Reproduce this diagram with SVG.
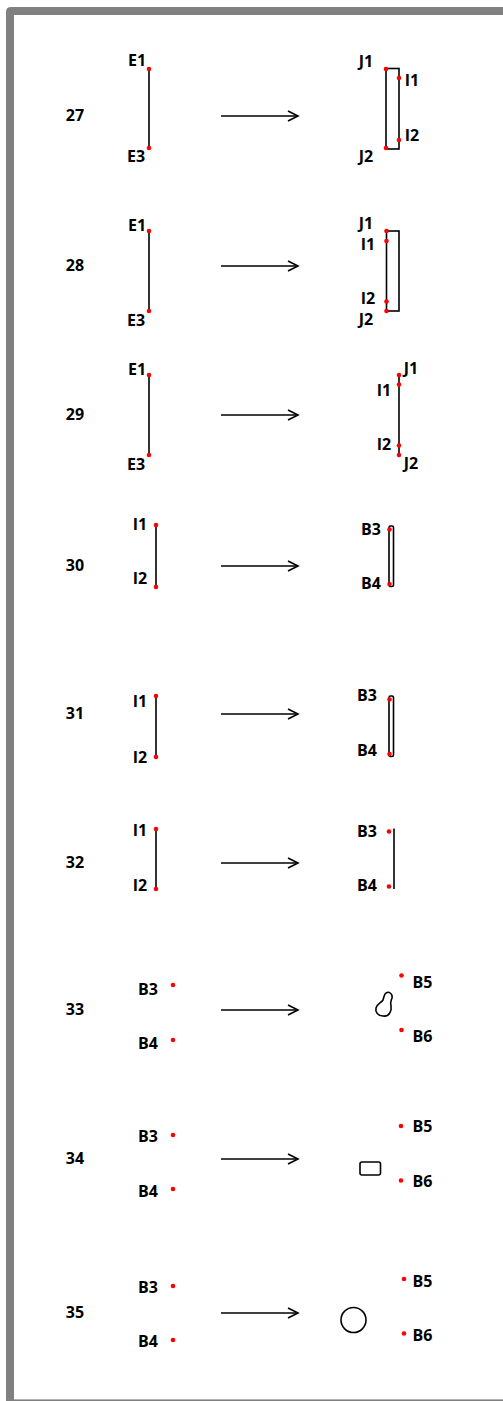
<svg xmlns="http://www.w3.org/2000/svg" width="503" height="1401" viewBox="0 0 503 1401">
<defs>
<style>
.t{font-family:"Open Sans","Liberation Sans",sans-serif;font-weight:bold;font-size:16px;fill:#000;text-anchor:middle}
.l{stroke:#000;stroke-width:1.6;fill:none}
.d{fill:#f00}
.a{stroke:#000;stroke-width:1.6;fill:none}
</style>
<marker id="ah" markerWidth="14" markerHeight="14" refX="11" refY="6" orient="auto" markerUnits="userSpaceOnUse">
<path d="M1,1 L11,6 L1,11" fill="none" stroke="#000" stroke-width="1.6"/>
</marker>
</defs>
<rect x="0" y="0" width="503" height="1401" fill="#fff"/>
<path d="M6,1401 V12 Q6,7 11,7 H503 V1401 Z" fill="#808080"/>
<rect x="14" y="15" width="489" height="1384" fill="#fff"/>
<line x1="14" y1="1399.5" x2="503" y2="1399.5" stroke="#b0b0b0" stroke-width="1"/>

<g id="connectors">
<line class="a" x1="221" y1="116" x2="298" y2="116" marker-end="url(#ah)"/>
<line class="a" x1="221" y1="266" x2="298" y2="266" marker-end="url(#ah)"/>
<line class="a" x1="221" y1="415" x2="298" y2="415" marker-end="url(#ah)"/>
<line class="a" x1="221" y1="566" x2="298" y2="566" marker-end="url(#ah)"/>
<line class="a" x1="221" y1="714" x2="298" y2="714" marker-end="url(#ah)"/>
<line class="a" x1="221" y1="863" x2="298" y2="863" marker-end="url(#ah)"/>
<line class="a" x1="221" y1="1010" x2="298" y2="1010" marker-end="url(#ah)"/>
<line class="a" x1="221" y1="1159" x2="298" y2="1159" marker-end="url(#ah)"/>
<line class="a" x1="221" y1="1313" x2="298" y2="1313" marker-end="url(#ah)"/>
</g>

<g id="row27">
<text class="t" x="75" y="121">27</text>
<line class="l" x1="149" y1="69" x2="149" y2="148"/>
<circle class="d" cx="149" cy="69" r="2.3"/><circle class="d" cx="149" cy="148" r="2.3"/>
<text class="t" x="137" y="66">E1</text><text class="t" x="136" y="162">E3</text>
<rect class="l" x="386" y="68.5" width="13" height="80.5"/>
<circle class="d" cx="386" cy="69" r="2.3"/><circle class="d" cx="399" cy="78" r="2.3"/>
<circle class="d" cx="399" cy="140" r="2.3"/><circle class="d" cx="386" cy="148" r="2.3"/>
<text class="t" x="366" y="67">J1</text><text class="t" x="412" y="86">I1</text>
<text class="t" x="412" y="141">I2</text><text class="t" x="366" y="162">J2</text>
</g>

<g id="row28">
<text class="t" x="75" y="271">28</text>
<line class="l" x1="149" y1="231" x2="149" y2="311"/>
<circle class="d" cx="149" cy="231" r="2.3"/><circle class="d" cx="149" cy="311" r="2.3"/>
<text class="t" x="137" y="231">E1</text><text class="t" x="136" y="326">E3</text>
<rect class="l" x="386.5" y="231" width="12.5" height="80"/>
<circle class="d" cx="386.5" cy="231" r="2.3"/><circle class="d" cx="386.5" cy="241" r="2.3"/>
<circle class="d" cx="386.5" cy="301.5" r="2.3"/><circle class="d" cx="386.5" cy="311" r="2.3"/>
<text class="t" x="366" y="228.5">J1</text><text class="t" x="368" y="250">I1</text>
<text class="t" x="368" y="304">I2</text><text class="t" x="366" y="325">J2</text>
</g>

<g id="row29">
<text class="t" x="75" y="420">29</text>
<line class="l" x1="149" y1="375" x2="149" y2="455"/>
<circle class="d" cx="149" cy="375" r="2.3"/><circle class="d" cx="149" cy="455" r="2.3"/>
<text class="t" x="137" y="375">E1</text><text class="t" x="136" y="470">E3</text>
<line class="l" x1="399" y1="375" x2="399" y2="455"/>
<circle class="d" cx="399" cy="375" r="2.3"/><circle class="d" cx="399" cy="384.5" r="2.3"/>
<circle class="d" cx="399" cy="445.5" r="2.3"/><circle class="d" cx="399" cy="455" r="2.3"/>
<text class="t" x="411" y="374">J1</text><text class="t" x="384" y="396">I1</text>
<text class="t" x="384" y="450">I2</text><text class="t" x="411" y="469">J2</text>
</g>

<g id="row30">
<text class="t" x="75" y="571">30</text>
<line class="l" x1="156" y1="525" x2="156" y2="587"/>
<circle class="d" cx="156" cy="525" r="2.3"/><circle class="d" cx="156" cy="587" r="2.3"/>
<text class="t" x="140" y="530">I1</text><text class="t" x="140" y="584">I2</text>
<rect class="l" x="389" y="526" width="4.5" height="60.5" rx="1.5"/>
<circle class="d" cx="389.5" cy="529.5" r="2.3"/><circle class="d" cx="389.5" cy="584" r="2.3"/>
<text class="t" x="371" y="535">B3</text><text class="t" x="371" y="589">B4</text>
</g>

<g id="row31">
<text class="t" x="75" y="719">31</text>
<line class="l" x1="156" y1="696" x2="156" y2="757"/>
<circle class="d" cx="156" cy="696" r="2.3"/><circle class="d" cx="156" cy="757" r="2.3"/>
<text class="t" x="140" y="707">I1</text><text class="t" x="140" y="763">I2</text>
<rect class="l" x="389" y="696" width="4.5" height="60.5" rx="1.5"/>
<circle class="d" cx="389.5" cy="699.5" r="2.3"/><circle class="d" cx="389.5" cy="754" r="2.3"/>
<text class="t" x="367" y="701">B3</text><text class="t" x="367" y="756">B4</text>
</g>

<g id="row32">
<text class="t" x="75" y="868">32</text>
<line class="l" x1="156" y1="829" x2="156" y2="889"/>
<circle class="d" cx="156" cy="829" r="2.3"/><circle class="d" cx="156" cy="889" r="2.3"/>
<text class="t" x="140" y="836">I1</text><text class="t" x="140" y="891">I2</text>
<line class="l" x1="394" y1="828.5" x2="394" y2="889"/>
<circle class="d" cx="389" cy="831.5" r="2.3"/><circle class="d" cx="389" cy="886.5" r="2.3"/>
<text class="t" x="367" y="837">B3</text><text class="t" x="367" y="891">B4</text>
</g>

<g id="row33">
<text class="t" x="75" y="1015">33</text>
<circle class="d" cx="173" cy="985" r="2.3"/><circle class="d" cx="173" cy="1040" r="2.3"/>
<text class="t" x="148" y="995">B3</text><text class="t" x="148" y="1049">B4</text>
<path class="l" d="M386,993 C389,991 393,994 392,998 C391,1001 390,1002 391,1006 C392,1011 389,1017 383,1016 C378,1016 375,1012 376,1008 C377,1004 381,1003 383,1000 C384,997 384,994 386,993 Z"/>
<circle class="d" cx="401.5" cy="975.5" r="2.3"/><circle class="d" cx="401.5" cy="1030" r="2.3"/>
<text class="t" x="422.5" y="988">B5</text><text class="t" x="422.5" y="1042">B6</text>
</g>

<g id="row34">
<text class="t" x="75" y="1164">34</text>
<circle class="d" cx="173" cy="1135" r="2.3"/><circle class="d" cx="173" cy="1189" r="2.3"/>
<text class="t" x="148" y="1142">B3</text><text class="t" x="148" y="1197">B4</text>
<rect class="l" x="360" y="1162" width="20.5" height="13" rx="2"/>
<circle class="d" cx="401" cy="1126" r="2.3"/><circle class="d" cx="401" cy="1180.5" r="2.3"/>
<text class="t" x="422.5" y="1132">B5</text><text class="t" x="422.5" y="1187">B6</text>
</g>

<g id="row35">
<text class="t" x="75" y="1318">35</text>
<circle class="d" cx="173" cy="1286" r="2.3"/><circle class="d" cx="173" cy="1340" r="2.3"/>
<text class="t" x="148" y="1293">B3</text><text class="t" x="148" y="1347">B4</text>
<circle class="l" cx="353.5" cy="1320" r="12.5"/>
<circle class="d" cx="404" cy="1279" r="2.3"/><circle class="d" cx="404" cy="1333.5" r="2.3"/>
<text class="t" x="422.5" y="1287">B5</text><text class="t" x="422.5" y="1341">B6</text>
</g>
</svg>
